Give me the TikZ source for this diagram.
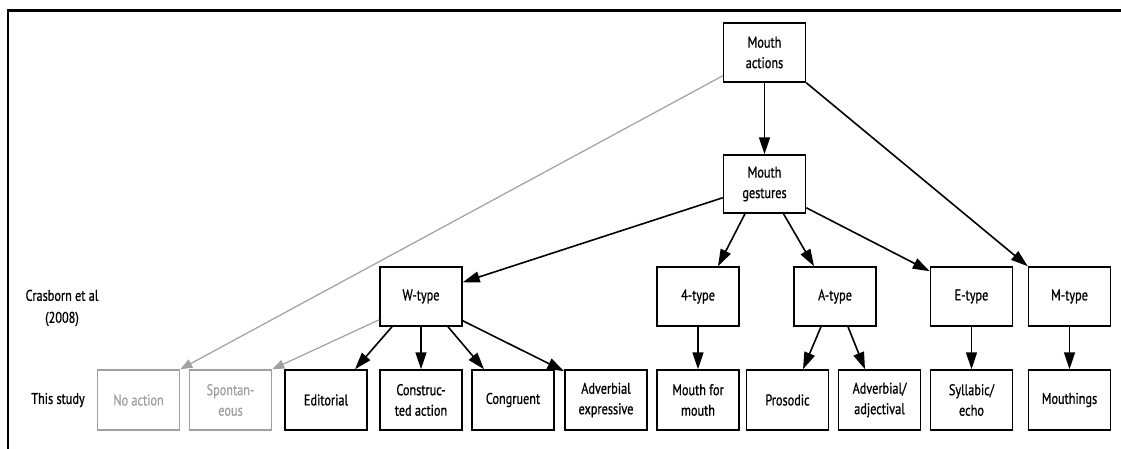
\documentclass[tikz,border=0pt]{standalone}
\usepackage{fontspec}
\setmainfont{PT Sans}[FakeStretch=0.79,FakeBold=0.8]
\usetikzlibrary{arrows.meta}
\definecolor{lightg}{HTML}{A0A0A0}
\begin{document}
\begin{tikzpicture}[x=1pt,y=-1pt,
  box/.style={draw,line width=1.5pt,rectangle,minimum width=82pt,minimum height=59pt,inner sep=2pt,align=center,font=\fontsize{15.5}{20.5}\selectfont},
  gbox/.style={box,draw=lightg,text=lightg},
  lab/.style={align=center,font=\fontsize{15.5}{22}\selectfont},
  arr/.style={line width=1.6pt,-{Triangle[length=17pt,width=11pt]}},
  garr/.style={line width=1.2pt,draw=lightg,-{Triangle[length=12pt,width=9pt,fill=lightg]}}]
\useasboundingbox (0,0) rectangle (1121,448);
\draw[line width=2.5pt] (8,449) -- (8,10.5) -- (1122,10.5);
% top
\node[box] (ma) at (764.5,52.5) {Mouth\\actions};
\node[box,minimum height=58pt] (mg) at (764.5,184) {Mouth\\gestures};
% second row
\node[box] (wt) at (421,296.5) {W-type};
\node[box] (t4) at (698,296.5) {4-type};
\node[box] (at) at (835,296.5) {A-type};
\node[box] (et) at (971.5,296.5) {E-type};
\node[box] (mt) at (1069.5,296.5) {M-type};
% bottom row
\node[gbox,minimum height=60pt] (na) at (138.5,400) {No action};
\node[gbox,minimum height=60pt] (sp) at (230.5,400) {Spontan-\\eous};
\node[box,minimum height=60pt] (ed) at (326,400) {Editorial};
\node[box,minimum height=60pt] (ca) at (421,400) {Construc-\\ted action};
\node[box,minimum height=60pt] (cg) at (513,400) {Congruent};
\node[box,minimum height=60pt] (ae) at (606,400) {Adverbial\\expressive};
\node[box,minimum height=60pt] (mm) at (698,400) {Mouth for\\mouth};
\node[box,minimum height=60pt] (pr) at (787.5,400) {Prosodic};
\node[box,minimum height=60pt] (aa) at (879.5,400) {Adverbial/\\adjectival};
\node[box,minimum height=60pt] (sy) at (971.5,400) {Syllabic/\\echo};
\node[box,minimum height=60pt] (mo) at (1069.5,400) {Mouthings};
% labels
\node[lab] (cr) at (62,308) {Crasborn et al\\(2008)};
\node[lab] (ts) at (58,400) {This study};
% arrows
\draw[garr] ([yshift=7pt]ma.south west) -- (na.north east);
\draw[arr] (ma.south) -- (mg.north);
\draw[arr] (ma.south east) -- (mt.north west);
\draw[arr] ([yshift=16pt]mg.south west) -- ([yshift=-16pt]wt.north east);
\draw[arr] ([xshift=-19.5pt]mg.south) -- ([xshift=20pt]t4.north);
\draw[arr] ([xshift=19pt]mg.south) -- ([xshift=-21pt]at.north);
\draw[arr] ([yshift=6pt]mg.south east) -- ([yshift=-5pt]et.north west);
\draw[garr] ([yshift=7pt]wt.south west) -- (sp.north east);
\draw[arr] ([xshift=-29pt]wt.south) -- ([xshift=29pt]ed.north);
\draw[arr] (wt.south) -- (ca.north);
\draw[arr] ([xshift=27pt]wt.south) -- ([xshift=-29pt]cg.north);
\draw[arr] ([yshift=6pt]wt.south east) -- ([yshift=-2pt]ae.north west);
\draw[arr] (t4.south) -- (mm.north);
\draw[arr] ([xshift=-14pt]at.south) -- ([xshift=15.5pt]pr.north);
\draw[arr] ([xshift=13pt]at.south) -- ([xshift=-14.5pt]aa.north);
\draw[arr] (et.south) -- (sy.north);
\draw[arr] (mt.south) -- (mo.north);
\end{tikzpicture}
\end{document}
